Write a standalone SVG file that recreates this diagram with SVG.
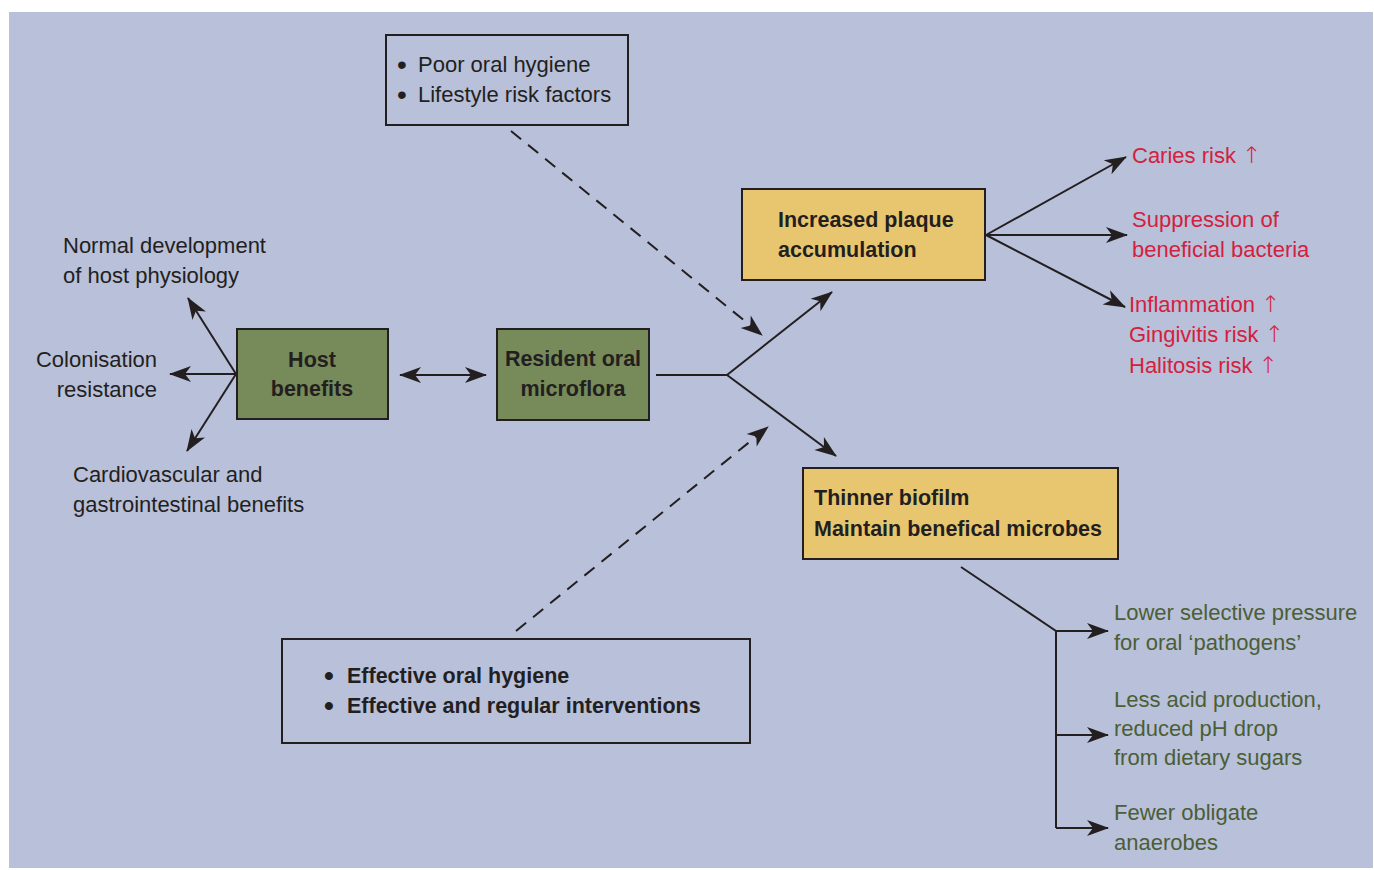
<svg xmlns="http://www.w3.org/2000/svg" width="1374" height="870" viewBox="0 0 1374 870">
<style>
  text { font-family: "Liberation Sans", "DejaVu Sans", sans-serif; fill: #231f20; }
  .r { font-size: 22px; }
  .b { font-size: 21.5px; font-weight: bold; }
  .red { fill: #d4203d; font-size: 22px; }
  .grn { fill: #4b5e35; font-size: 22px; }
  .up { font-family: "DejaVu Sans", sans-serif; font-size: 23px; font-weight: 200; }
  .bul { font-size: 28px; }
  .box { stroke: #231f20; stroke-width: 2; }
  .conn line, .conn polyline { stroke: #231f20; stroke-width: 2; fill: none; }
  .dash { stroke-dasharray: 13 9; }
  .ar { marker-end: url(#ah); }
</style>
<defs>
  <marker id="ah" markerUnits="userSpaceOnUse" markerWidth="24" markerHeight="18" refX="21" refY="8" orient="auto-start-reverse" overflow="visible">
    <path d="M0,0 L22,8 L0,16 L6,8 Z" fill="#231f20"/>
  </marker>
</defs>
<rect x="9" y="12" width="1364" height="856" fill="#b8c0da"/>

<g id="risk-box">
  <rect class="box" x="386" y="35" width="242" height="90" fill="none"/>
  <text class="r"><tspan class="bul" x="397" y="74">•</tspan><tspan x="418" y="72">Poor oral hygiene</tspan></text>
  <text class="r"><tspan class="bul" x="397" y="104">•</tspan><tspan x="418" y="102">Lifestyle risk factors</tspan></text>
</g>

<g id="host-benefits">
  <rect class="box" x="237" y="329" width="151" height="90" fill="#778a5a"/>
  <text class="b" x="312" y="367" text-anchor="middle">Host</text>
  <text class="b" x="312" y="396" text-anchor="middle">benefits</text>
</g>

<g id="resident">
  <rect class="box" x="497" y="329" width="152" height="91" fill="#778a5a"/>
  <text class="b" x="573" y="366" text-anchor="middle">Resident oral</text>
  <text class="b" x="573" y="396" text-anchor="middle">microflora</text>
</g>

<g id="plaque">
  <rect class="box" x="742" y="189" width="243" height="91" fill="#e8c66f"/>
  <text class="b" x="778" y="227">Increased plaque</text>
  <text class="b" x="778" y="257">accumulation</text>
</g>

<g id="thinner">
  <rect class="box" x="803" y="468" width="315" height="91" fill="#e8c66f"/>
  <text class="b" x="814" y="505">Thinner biofilm</text>
  <text class="b" x="814" y="536">Maintain benefical microbes</text>
</g>

<g id="hygiene-box">
  <rect class="box" x="282" y="639" width="468" height="104" fill="none"/>
  <text class="b"><tspan class="bul" x="324" y="685">•</tspan><tspan x="347" y="683">Effective oral hygiene</tspan></text>
  <text class="b"><tspan class="bul" x="324" y="715">•</tspan><tspan x="347" y="713">Effective and regular interventions</tspan></text>
</g>

<g id="host-outcomes">
  <text class="r" x="63" y="253">Normal development</text>
  <text class="r" x="63" y="283">of host physiology</text>
  <text class="r" x="157" y="367" text-anchor="end">Colonisation</text>
  <text class="r" x="157" y="397" text-anchor="end">resistance</text>
  <text class="r" x="73" y="482">Cardiovascular and</text>
  <text class="r" x="73" y="512">gastrointestinal benefits</text>
</g>

<g id="plaque-outcomes">
  <text class="red" x="1132" y="163">Caries risk <tspan class="up">↑</tspan></text>
  <text class="red" x="1132" y="227">Suppression of</text>
  <text class="red" x="1132" y="257">beneficial bacteria</text>
  <text class="red" x="1129" y="312">Inflammation <tspan class="up">↑</tspan></text>
  <text class="red" x="1129" y="342">Gingivitis risk <tspan class="up">↑</tspan></text>
  <text class="red" x="1129" y="373">Halitosis risk <tspan class="up">↑</tspan></text>
</g>

<g id="biofilm-outcomes">
  <text class="grn" x="1114" y="620">Lower selective pressure</text>
  <text class="grn" x="1114" y="650">for oral ‘pathogens’</text>
  <text class="grn" x="1114" y="707">Less acid production,</text>
  <text class="grn" x="1114" y="736">reduced pH drop</text>
  <text class="grn" x="1114" y="765">from dietary sugars</text>
  <text class="grn" x="1114" y="820">Fewer obligate</text>
  <text class="grn" x="1114" y="850">anaerobes</text>
</g>

<g id="connectors" class="conn">
  <line class="ar" x1="236" y1="374" x2="188" y2="298"/>
  <line class="ar" x1="236" y1="374" x2="170" y2="374"/>
  <line class="ar" x1="236" y1="374" x2="187" y2="451"/>
  <line x1="400" y1="375" x2="486" y2="375" marker-start="url(#ah)" marker-end="url(#ah)"/>
  <line x1="656" y1="375" x2="727" y2="375"/>
  <line class="ar" x1="727" y1="375" x2="832" y2="292"/>
  <line class="ar" x1="727" y1="375" x2="836" y2="456"/>
  <line class="ar dash" x1="511" y1="131" x2="762" y2="335"/>
  <line class="ar dash" x1="516" y1="631" x2="768" y2="427"/>
  <line class="ar" x1="986" y1="235" x2="1126" y2="157"/>
  <line class="ar" x1="986" y1="235" x2="1127" y2="235"/>
  <line class="ar" x1="986" y1="235" x2="1125" y2="307"/>
  <polyline points="961,567 1056,631 1056,828"/>
  <line class="ar" x1="1056" y1="631" x2="1108" y2="631"/>
  <line class="ar" x1="1056" y1="735" x2="1108" y2="735"/>
  <line class="ar" x1="1056" y1="828" x2="1108" y2="828"/>
</g>
</svg>
